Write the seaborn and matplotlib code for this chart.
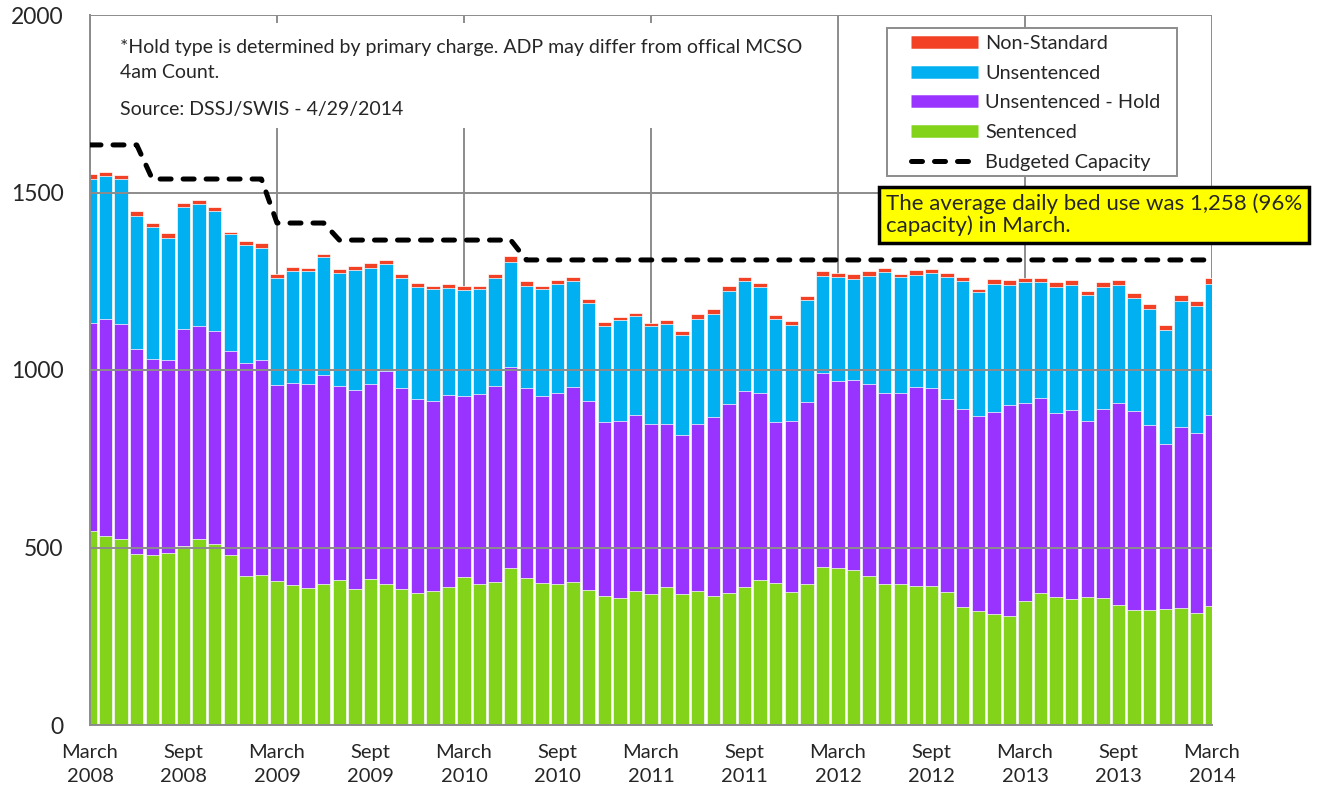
import numpy as np
import pandas as pd
import matplotlib
matplotlib.use("Agg")
import matplotlib.pyplot as plt
import seaborn as sns
from matplotlib.lines import Line2D
from matplotlib.patches import Rectangle

# monthly average daily population, March 2008 .. March 2014
months = pd.period_range("2008-03", "2014-03", freq="M")

sentenced = [546, 532, 525, 481, 479, 485, 504, 523, 510, 479,
             420, 422, 406, 394, 385, 398, 408, 383, 411, 397,
             383, 373, 378, 390, 416, 397, 402, 443, 414, 400,
             396, 403, 380, 362, 359, 377, 370, 388, 369, 377,
             363, 372, 389, 409, 401, 376, 398, 445, 443, 438,
             421, 397, 397, 392, 392, 376, 332, 321, 312, 307,
             349, 371, 361, 355, 361, 359, 338, 325, 325, 328,
             330, 315, 334]
hold = [587, 611, 605, 577, 553, 543, 611, 601, 601, 575,
        601, 607, 553, 570, 576, 588, 547, 562, 550, 600,
        565, 544, 536, 540, 512, 536, 554, 565, 534, 527,
        538, 550, 532, 492, 497, 497, 477, 459, 447, 470,
        504, 531, 552, 525, 453, 481, 513, 546, 525, 534,
        540, 539, 537, 559, 558, 542, 559, 550, 571, 595,
        558, 551, 519, 533, 496, 530, 568, 560, 519, 464,
        510, 508, 538]
unsentenced = [406, 403, 407, 377, 370, 344, 343, 343, 336, 328,
               330, 316, 300, 316, 317, 332, 319, 337, 327, 302,
               312, 317, 313, 302, 298, 294, 302, 295, 290, 300,
               308, 298, 278, 271, 284, 277, 276, 283, 282, 296,
               292, 320, 309, 299, 291, 270, 286, 275, 293, 285,
               305, 341, 327, 317, 322, 343, 359, 350, 360, 338,
               340, 325, 355, 352, 354, 345, 333, 317, 328, 322,
               354, 357, 370]
nonstandard = [13, 13, 12, 14, 13, 13, 13, 12, 11, 8,
               11, 14, 11, 11, 10, 10, 11, 11, 14, 11,
               10, 10, 11, 9, 11, 11, 12, 17, 13, 11,
               12, 11, 9, 11, 10, 10, 10, 11, 12, 15,
               13, 14, 12, 12, 11, 12, 12, 13, 13, 13,
               13, 11, 9, 14, 13, 11, 11, 7, 12, 14,
               12, 12, 14, 14, 12, 14, 15, 14, 14, 14,
               17, 13, 16]
capacity = [1634, 1634, 1634, 1634, 1538, 1538, 1538, 1538, 1538, 1538,
            1538, 1538, 1414, 1414, 1414, 1414, 1366, 1366, 1366, 1366,
            1366, 1366, 1366, 1366, 1366, 1366, 1366, 1366, 1310, 1310,
            1310, 1310, 1310, 1310, 1310, 1310, 1310, 1310, 1310, 1310,
            1310, 1310, 1310, 1310, 1310, 1310, 1310, 1310, 1310, 1310,
            1310, 1310, 1310, 1310, 1310, 1310, 1310, 1310, 1310, 1310,
            1310, 1310, 1310, 1310, 1310, 1310, 1310, 1310, 1310, 1310,
            1310, 1310, 1310]

march_labels = ["March\n2008", "March\n2009", "March\n2010", "March\n2011",
                "March\n2012", "March\n2013", "March\n2014"]
sept_labels = ["Sept\n2008", "Sept\n2009", "Sept\n2010", "Sept\n2011",
               "Sept\n2012", "Sept\n2013"]

series_names = ["Non-Standard", "Unsentenced", "Unsentenced - Hold", "Sentenced"]
colors = ["#F24125", "#00B0F0", "#9933FF", "#83D31B"]
grid_gray = "#8C8C8C"

df = pd.DataFrame({"month": np.arange(len(months)),
                   "Sentenced": sentenced, "Hold": hold,
                   "Unsentenced": unsentenced, "NonStandard": nonstandard,
                   "Capacity": capacity})
# stacking: draw cumulative tops, tallest first
df["top_green"] = df["Sentenced"]
df["top_purple"] = df["top_green"] + df["Hold"]
df["top_blue"] = df["top_purple"] + df["Unsentenced"]
df["top_red"] = df["top_blue"] + df["NonStandard"]

sns.set_style("white")
plt.rcParams["font.family"] = ["Lato", "DejaVu Sans"]

W, H = 1335, 792
fig, ax = plt.subplots(figsize=(W / 100, H / 100), dpi=100)
fig.subplots_adjust(left=90 / W, right=1212 / W, bottom=67 / H, top=777 / H)

for col, c in zip(["top_red", "top_blue", "top_purple", "top_green"], colors):
    sns.barplot(data=df, x="month", y=col, color=c, saturation=1, width=0.86,
                edgecolor="white", linewidth=0.5, errorbar=None, ax=ax, zorder=2)

dash = (0, (2.2, 2.4))
sns.lineplot(data=df, x="month", y="Capacity", color="black", lw=3.6,
             linestyle=dash, dash_capstyle="round", ax=ax, zorder=5)

# gridlines: verticals behind bars, horizontals on top
for x in range(0, 73, 12):
    ax.axvline(x, color=grid_gray, lw=1.4, zorder=1)
for y in [500, 1000, 1500, 2000]:
    ax.axhline(y, color=grid_gray, lw=1.4, zorder=3)

ax.set_xlim(0, 72)
ax.set_ylim(0, 2000)
ax.set_xlabel("")
ax.set_ylabel("")
for s in ["top", "right"]:
    ax.spines[s].set_visible(False)
for s in ["left", "bottom"]:
    ax.spines[s].set_color(grid_gray)
    ax.spines[s].set_linewidth(1.4)
    ax.spines[s].set_zorder(4)

ax.set_yticks([0, 500, 1000, 1500, 2000])
ax.set_yticklabels(["0", "500", "1000", "1500", "2000"])
ax.set_xticks(list(range(0, 73, 12)), labels=march_labels)
ax.set_xticks(list(range(6, 72, 12)), labels=sept_labels, minor=True)
ax.tick_params(axis="y", length=7, width=1.4, color=grid_gray, pad=12, labelsize=16.5)
ax.tick_params(axis="x", which="major", length=6, width=1.4, color=grid_gray,
               direction="out", pad=8, labelsize=14.5)
ax.tick_params(axis="x", which="minor", length=4, width=1.4, color=grid_gray,
               direction="in", pad=14, labelsize=14.5)
plt.setp(ax.get_xticklabels(which="both"), linespacing=1.45)

# legend box drawn separately so its frame can be sized like the original
fig.patches.append(Rectangle((887 / W, 1 - 176 / H), 290 / W, 148 / H,
                             transform=fig.transFigure, facecolor="white",
                             edgecolor=grid_gray, lw=1.4, zorder=4))
handles = [Line2D([], [], color=c, lw=9, solid_capstyle="butt") for c in colors]
handles.append(Line2D([], [], color="black", lw=3.6, linestyle=dash, dash_capstyle="round"))
leg = fig.legend(handles, series_names + ["Budgeted Capacity"], loc="upper left",
                 bbox_to_anchor=(911 / W, 1 - 35 / H), frameon=False,
                 handlelength=3.37, fontsize=14.3, labelspacing=0.64, borderpad=0,
                 borderaxespad=0, handletextpad=0.35)
leg.set_zorder(5)

# note text box (white, hides the gridlines behind it)
fig.patches.append(Rectangle((100 / W, 1 - 128 / H), 728 / W, 105 / H,
                             transform=fig.transFigure, facecolor="white",
                             edgecolor="none", zorder=1))
fig.text(120 / W, 1 - 47 / H,
         "*Hold type is determined by primary charge. ADP may differ from offical MCSO",
         fontsize=14, va="center", ha="left", zorder=2)
fig.text(120 / W, 1 - 72 / H, "4am Count.", fontsize=14, va="center", ha="left", zorder=2)
fig.text(120 / W, 1 - 110 / H, "Source: DSSJ/SWIS - 4/29/2014",
         fontsize=14, va="center", ha="left", zorder=2)

fig.text(886 / W, 1 - 215 / H,
         "The average daily bed use was 1,258 (96%\ncapacity) in March.",
         fontsize=16, va="center", ha="left", linespacing=1.1,
         bbox=dict(boxstyle="square,pad=0.3", fc="#FFFF00", ec="black", lw=2.5),
         zorder=10)

fig.savefig("out.png", dpi=100)
